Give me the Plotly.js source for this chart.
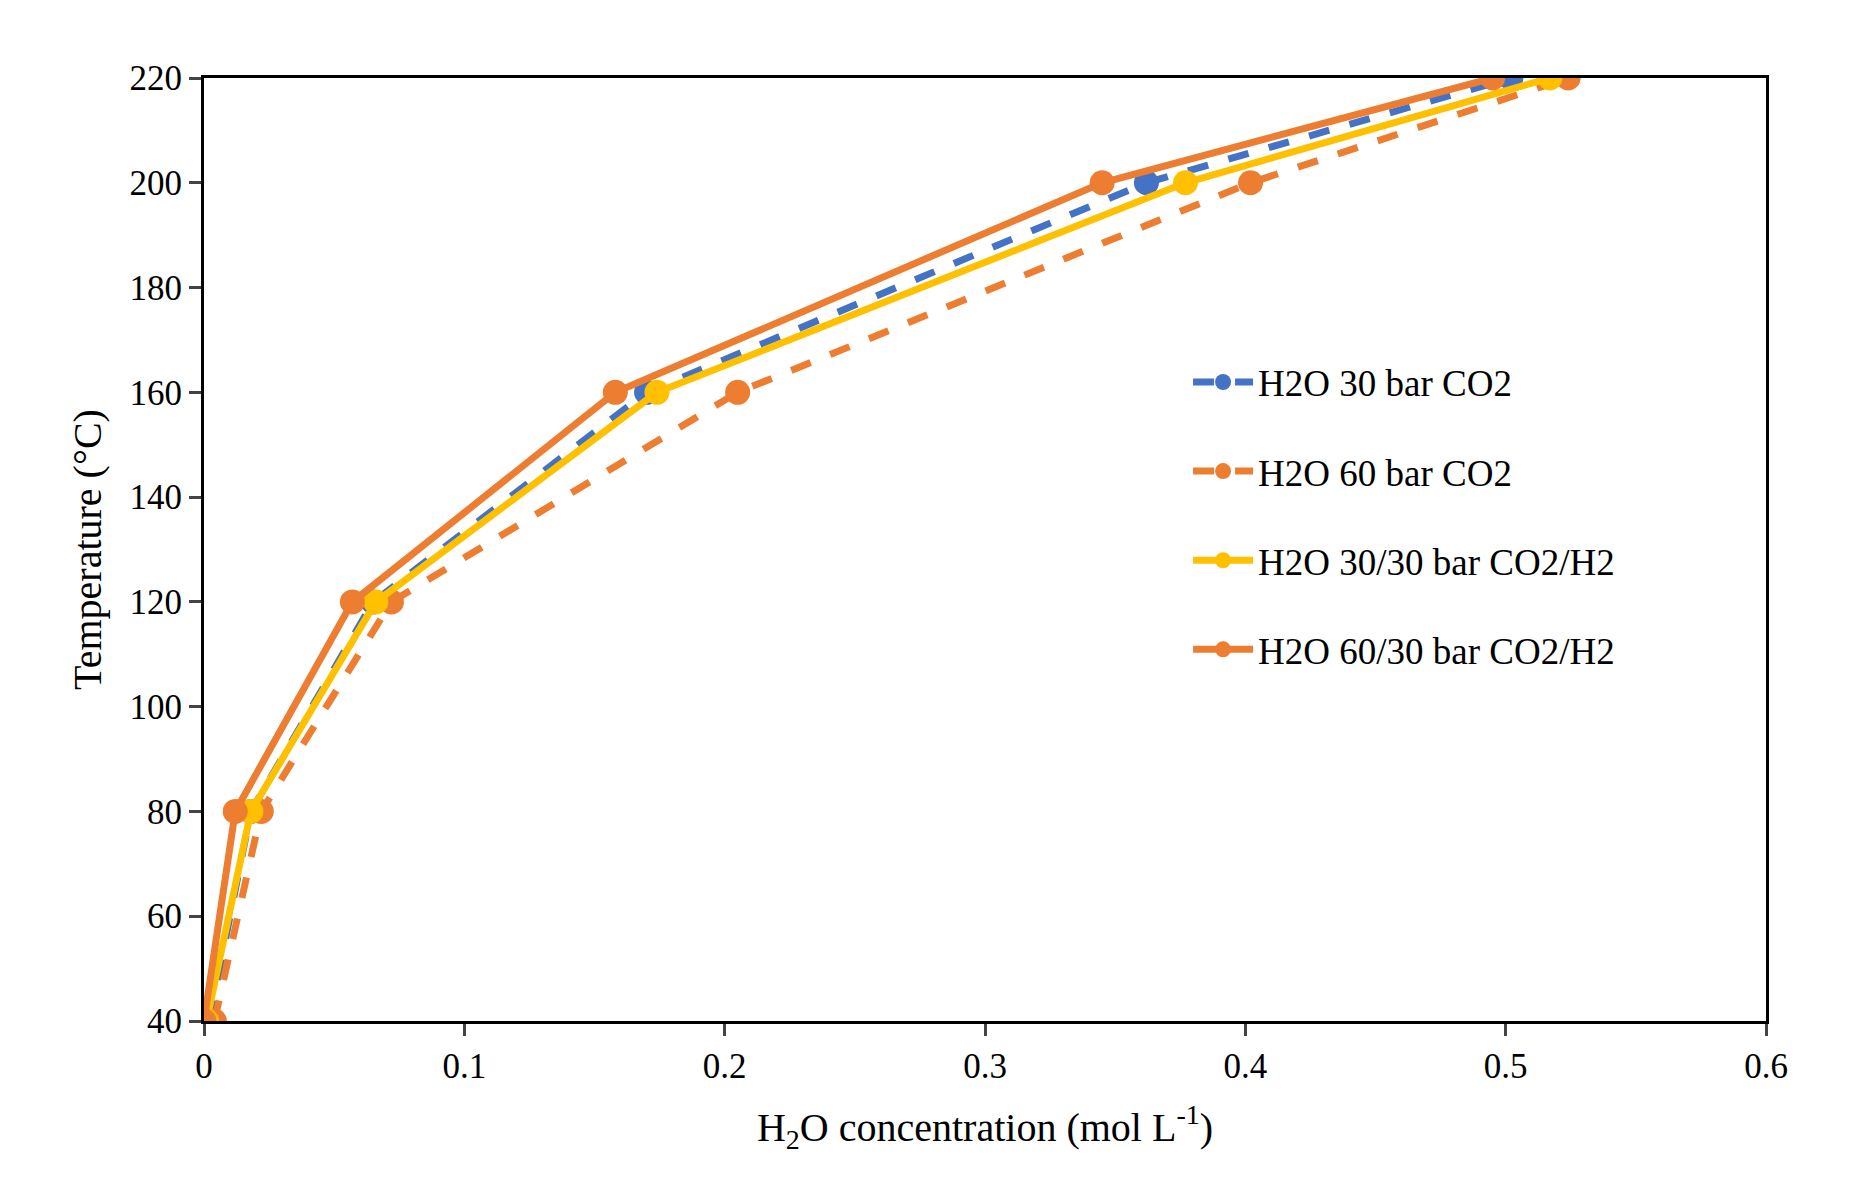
<!DOCTYPE html>
<html>
<head>
<script src="https://cdn.plot.ly/plotly-3.0.1.min.js"></script>
<style>body{margin:0;background:#fff}</style>
</head>
<body>
<div id="plot" style="width:1872px;height:1178px"></div>
<script>
// temperatures (°C)
let temps = [40, 80, 120, 160, 200, 220];
// H2O concentration (mol/L)
let h2o30 = [0.002, 0.018, 0.065, 0.170, 0.362, 0.502];
let h2o60 = [0.004, 0.022, 0.072, 0.205, 0.402, 0.524];
let h2o3030 = [0.001, 0.018, 0.066, 0.174, 0.377, 0.517];
let h2o6030 = [0.000, 0.012, 0.057, 0.158, 0.345, 0.495];
let names = ["H2O 30 bar CO2", "H2O 60 bar CO2", "H2O 30/30 bar CO2/H2", "H2O 60/30 bar CO2/H2"];
let xTicks = [0, 0.1, 0.2, 0.3, 0.4, 0.5, 0.6];
let xTickText = ["0", "0.1", "0.2", "0.3", "0.4", "0.5", "0.6"];

function series(x, name, color, dash, i) {
  return {
    x: x, y: temps, name: name, type: "scatter", mode: "lines+markers",
    legendgroup: "g" + i,
    line: {color: color, width: 7, dash: dash},
    marker: {color: color, size: 25}
  };
}

let traces = [
  series(h2o30, names[0], "#4472C4", "dash", 0),
  series(h2o60, names[1], "#ED7D31", "dash", 1),
  series(h2o3030, names[2], "#FFC000", "solid", 2),
  series(h2o6030, names[3], "#ED7D31", "solid", 3)
];

let axisFont = {family: "Liberation Serif", size: 35, color: "#000"};
let layout = {
  width: 1872, height: 1178,
  margin: {l: 204, r: 106, t: 78, b: 157},
  paper_bgcolor: "#fff", plot_bgcolor: "#fff",
  font: axisFont,
  showlegend: true,
  legend: {x: 0.63, y: 0.71, xanchor: "left", yanchor: "top",
    font: {family: "Liberation Serif", size: 37, color: "#000"},
    traceorder: "grouped", tracegroupgap: 38, itemwidth: 60,
    bgcolor: "rgba(0,0,0,0)"},
  xaxis: {
    range: [0, 0.6], tickvals: xTicks, ticktext: xTickText,
    showline: true, mirror: true, linecolor: "#000", linewidth: 3,
    ticks: "outside", ticklen: 12, tickwidth: 3, showgrid: false, zeroline: false,
    tickfont: axisFont,
    title: {text: "H<sub>2</sub>O concentration (mol L<sup>-1</sup>)", font: {family: "Liberation Serif", size: 40}, standoff: 28}
  },
  yaxis: {
    range: [40, 220], dtick: 20,
    showline: true, mirror: true, linecolor: "#000", linewidth: 3,
    ticks: "outside", ticklen: 12, tickwidth: 3, showgrid: false, zeroline: false,
    tickfont: axisFont,
    title: {text: "Temperature (°C)", font: {family: "Liberation Serif", size: 40}, standoff: 16}
  }
};

Plotly.newPlot("plot", traces, layout, {displayModeBar: false});
</script>
</body>
</html>
